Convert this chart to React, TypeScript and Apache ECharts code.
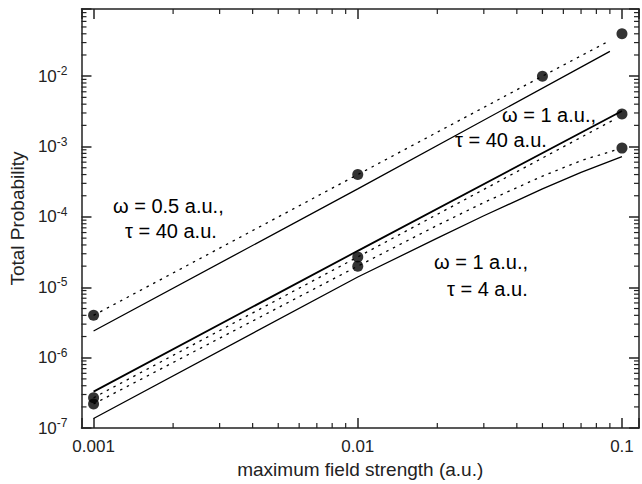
import React, { useEffect, useRef } from "react";
import * as echarts from "echarts";

// ---- data ----
const X_MIN = 0.0009;
const X_MAX = 0.116;
const Y_MIN = 1e-7;
const Y_MAX = 0.09;

// omega = 0.5 a.u., tau = 40 a.u.
const w05DottedX = [0.001, 0.01, 0.05, 0.09];
const w05DottedY = [4e-6, 4e-4, 1e-2, 3.2e-2];
const w05SolidX = [0.001, 0.01, 0.09];
const w05SolidY = [2.4e-6, 2.5e-4, 2.25e-2];
const w05MarkX = [0.001, 0.01, 0.05, 0.1];
const w05MarkY = [4e-6, 4e-4, 1e-2, 4e-2];

// omega = 1 a.u., tau = 40 a.u.
const w1t40SolidX = [0.001, 0.01, 0.1];
const w1t40SolidY = [3.3e-7, 3.3e-5, 3.2e-3];
const w1t40DottedX = [0.001, 0.01, 0.095];
const w1t40DottedY = [2.7e-7, 2.7e-5, 2.5e-3];
const w1t40MarkX = [0.001, 0.01, 0.1];
const w1t40MarkY = [2.7e-7, 2.7e-5, 2.9e-3];

// omega = 1 a.u., tau = 4 a.u.
const w1t4DottedX = [0.001, 0.01, 0.02, 0.03, 0.05, 0.07, 0.095];
const w1t4DottedY = [2.2e-7, 2.0e-5, 7.6e-5, 1.6e-4, 3.8e-4, 6.3e-4, 9.0e-4];
const w1t4SolidX = [0.001, 0.01, 0.02, 0.03, 0.05, 0.07, 0.1];
const w1t4SolidY = [1.37e-7, 1.4e-5, 5.0e-5, 1.04e-4, 2.5e-4, 4.3e-4, 7.2e-4];
const w1t4MarkX = [0.001, 0.01, 0.1];
const w1t4MarkY = [2.2e-7, 2.0e-5, 9.5e-4];

// minor tick values
const xMinorTicks = [
  0.002, 0.003, 0.004, 0.005, 0.006, 0.007, 0.008, 0.009,
  0.02, 0.03, 0.04, 0.05, 0.06, 0.07, 0.08, 0.09,
];
const yMinorTicks: number[] = [];
const yDecades = [1e-7, 1e-6, 1e-5, 1e-4, 1e-3, 1e-2];
const minorMult = [2, 3, 4, 5, 6, 7, 8];
yDecades.forEach((d) => minorMult.forEach((m) => yMinorTicks.push(d * m)));
yDecades.slice(0, 5).forEach((d) => yMinorTicks.push(d * 9));

const xLabels: Record<string, string> = { "-3": "0.001", "-2": "0.01", "-1": "0.1" };

const zip = (xs: number[], ys: number[]) => xs.map((x, i) => [x, ys[i]]);

const FONT = "Arial, 'Liberation Sans', Helvetica, sans-serif";
const AXIS_COLOR = "#222";

export default function App() {
  const ref = useRef<HTMLDivElement>(null);
  useEffect(() => {
    document.body.style.margin = "0";
    const chart = echarts.init(ref.current!, null, { renderer: "svg" });

    const isDecade = (v: number) => {
      const l = Math.log10(v);
      return Math.abs(l - Math.round(l)) < 1e-6;
    };

    const dotted = [2.5, 5];
    const lineSeries = (xs: number[], ys: number[], type: any, width: number) => ({
      type: "line",
      data: zip(xs, ys),
      showSymbol: false,
      symbol: "none",
      smooth: false,
      lineStyle: { color: "#000", width, type },
      silent: true,
      z: 3,
    });
    const markSeries = (xs: number[], ys: number[]) => ({
      type: "scatter",
      data: zip(xs, ys),
      symbol: "circle",
      symbolSize: 11,
      itemStyle: { color: "#000" },
      z: 4,
    });

    const xMinorSeries = {
      type: "custom",
      coordinateSystem: "cartesian2d",
      clip: false,
      silent: true,
      data: xMinorTicks.map((v) => [v, Y_MIN]),
      renderItem: (params: any, api: any) => {
        const v = api.value(0);
        const b = api.coord([v, Y_MIN]);
        const t = api.coord([v, Y_MAX]);
        return {
          type: "group",
          children: [
            { type: "line", shape: { x1: b[0], y1: b[1], x2: b[0], y2: b[1] - 5 }, style: { stroke: AXIS_COLOR, lineWidth: 1.2 } },
            { type: "line", shape: { x1: t[0], y1: t[1], x2: t[0], y2: t[1] + 5 }, style: { stroke: AXIS_COLOR, lineWidth: 1.2 } },
          ],
        };
      },
    };
    const yMinorSeries = {
      type: "custom",
      coordinateSystem: "cartesian2d",
      clip: false,
      silent: true,
      data: yMinorTicks.map((v) => [X_MIN, v]),
      renderItem: (params: any, api: any) => {
        const v = api.value(1);
        const l = api.coord([X_MIN, v]);
        const r = api.coord([X_MAX, v]);
        return {
          type: "group",
          children: [
            { type: "line", shape: { x1: l[0], y1: l[1], x2: l[0] + 5, y2: l[1] }, style: { stroke: AXIS_COLOR, lineWidth: 1.2 } },
            { type: "line", shape: { x1: r[0], y1: r[1], x2: r[0] - 5, y2: r[1] }, style: { stroke: AXIS_COLOR, lineWidth: 1.2 } },
          ],
        };
      },
    };

    const axisCommon = {
      type: "log",
      logBase: 10,
      axisLine: { show: true, lineStyle: { color: AXIS_COLOR, width: 1.5 } },
      axisTick: { show: true, inside: true, length: 10, lineStyle: { color: AXIS_COLOR, width: 1.5 } },
      splitLine: { show: false },
      minorTick: { show: false },
    };

    const annText = (text: string, x: number, y: number) => ({
      type: "text",
      x,
      y,
      style: { text, fill: "#000", font: `20px ${FONT}`, textVerticalAlign: "middle" },
      z: 10,
    });

    chart.setOption({
      animation: false,
      backgroundColor: "#fff",
      textStyle: { fontFamily: FONT },
      grid: { left: 74.5, right: 1.5, top: 9, bottom: 51, containLabel: false },
      xAxis: [
        {
          ...axisCommon,
          min: X_MIN,
          max: X_MAX,
          position: "bottom",
          name: "maximum field strength (a.u.)",
          nameLocation: "middle",
          nameGap: 27,
          nameTextStyle: { fontSize: 19, color: "#222", fontFamily: FONT },
          axisLabel: {
            show: true,
            margin: 10,
            fontSize: 17,
            color: "#222",
            fontFamily: FONT,
            formatter: (v: number) => (isDecade(v) ? xLabels[String(Math.round(Math.log10(v)))] || "" : ""),
          },
        },
        {
          ...axisCommon,
          min: X_MIN,
          max: X_MAX,
          position: "top",
          axisLabel: { show: false },
        },
      ],
      yAxis: [
        {
          ...axisCommon,
          min: Y_MIN,
          max: Y_MAX,
          position: "left",
          name: "Total Probability",
          nameLocation: "middle",
          nameGap: 48,
          nameTextStyle: { fontSize: 19, color: "#222", fontFamily: FONT },
          axisLabel: {
            show: true,
            margin: 14,
            fontSize: 17,
            color: "#222",
            fontFamily: FONT,
            formatter: (v: number) => (isDecade(v) ? `10{sup|${Math.round(Math.log10(v))}}` : ""),
            rich: {
              sup: { fontSize: 12, verticalAlign: "top", padding: [0, 0, 10, 0], color: "#222", fontFamily: FONT },
            },
          },
        },
        {
          ...axisCommon,
          min: Y_MIN,
          max: Y_MAX,
          position: "right",
          axisLabel: { show: false },
        },
      ],
      series: [
        xMinorSeries,
        yMinorSeries,
        lineSeries(w05DottedX, w05DottedY, dotted, 1.3),
        lineSeries(w05SolidX, w05SolidY, "solid", 1.3),
        lineSeries(w1t40SolidX, w1t40SolidY, "solid", 1.8),
        lineSeries(w1t40DottedX, w1t40DottedY, dotted, 1.3),
        lineSeries(w1t4DottedX, w1t4DottedY, dotted, 1.3),
        lineSeries(w1t4SolidX, w1t4SolidY, "solid", 1.3),
        markSeries(w05MarkX, w05MarkY),
        markSeries(w1t40MarkX, w1t40MarkY),
        markSeries(w1t4MarkX, w1t4MarkY),
      ],
      graphic: [
        annText("ω = 0.5 a.u.,", 113, 206),
        annText("τ = 40 a.u.", 125, 231),
        annText("ω = 1 a.u.,", 502, 115),
        annText("τ = 40 a.u.", 455, 140),
        annText("ω = 1 a.u.,", 434, 262),
        annText("τ = 4 a.u.", 447, 289),
      ],
    });
    return () => chart.dispose();
  }, []);
  return <div ref={ref} style={{ width: 642, height: 484 }} />;
}
